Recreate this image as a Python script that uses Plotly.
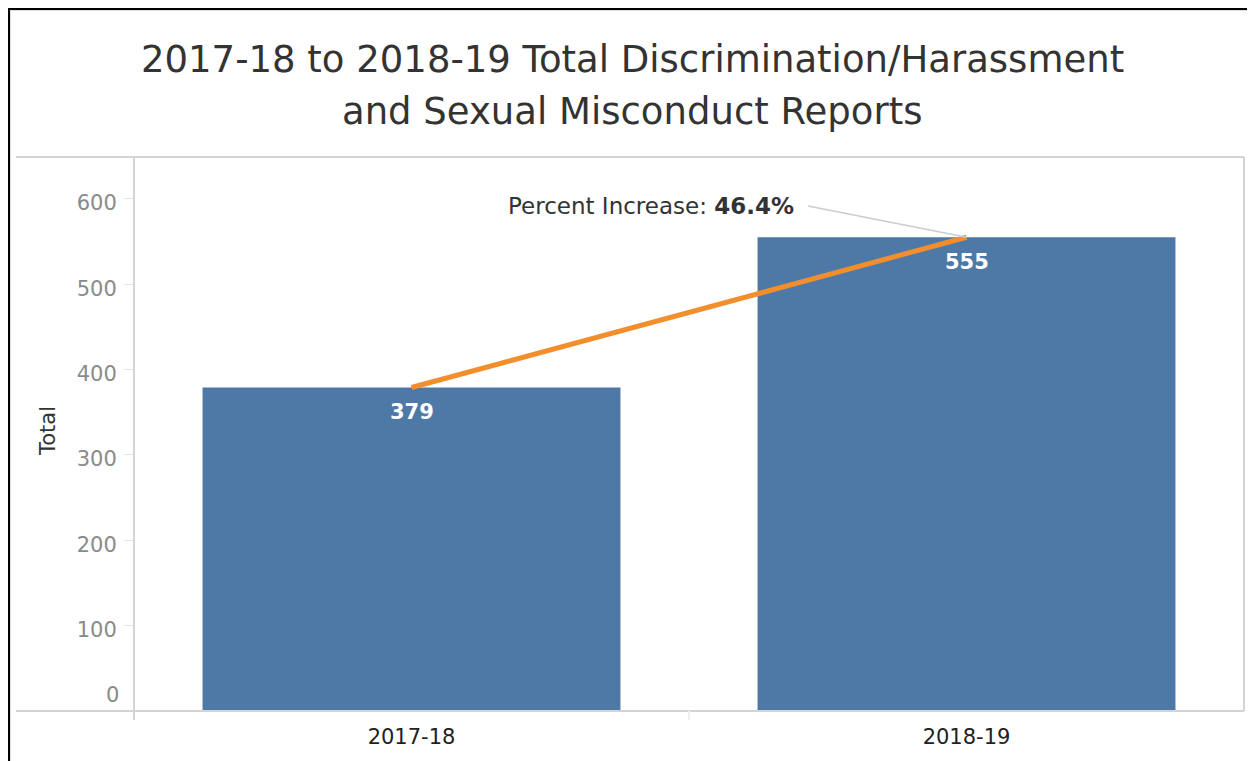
import plotly.graph_objects as go

categories = ["2017-18", "2018-19"]
totals = [379, 555]
y_ticks = [0, 100, 200, 300, 400, 500, 600]
title_lines = ["2017-18 to 2018-19 Total Discrimination/Harassment",
               "and Sexual Misconduct Reports"]

BAR = "#4e79a7"
ORANGE = "#f28e2b"
FONT = "DejaVu Sans"

OFF = 8  # page body margin
W, H = 1255 - OFF, 761 - OFF
# plot area in page pixel coords
L, R, T, B = 134, 1244, 157, 711
PW, PH = R - L, B - T
YMAX = 649


def px(x):
    return (x - L) / PW


def py(y):
    return (B - y) / PH


pct = (totals[1] - totals[0]) / totals[0] * 100

fig = go.Figure()
fig.add_trace(go.Bar(x=categories, y=totals, marker=dict(color=BAR, line=dict(width=0)),
                     hoverinfo="skip"))
fig.add_trace(go.Scatter(x=categories, y=totals, mode="lines",
                         line=dict(color=ORANGE, width=5), hoverinfo="skip"))

ann = []
for c, v in zip(categories, totals):
    ann.append(dict(x=c, y=v, xref="x", yref="y", text=f"<b>{v}</b>", showarrow=False,
                    yshift=-25, font=dict(family=FONT, size=21, color="white")))
ann.append(dict(x=categories[1], y=totals[1], xref="x", yref="y",
                text=f"Percent Increase: <b>{pct:.1f}%</b>", showarrow=False,
                xanchor="right", yanchor="middle", xshift=-171, yshift=31,
                font=dict(family=FONT, size=23, color="#333333")))
ann.append(dict(x=px(121), y=py(695), xref="paper", yref="paper", text=str(y_ticks[0]),
                showarrow=False, xanchor="right", yanchor="middle",
                font=dict(family=FONT, size=21, color="#8a8a8a")))
ann.append(dict(x=px(48), y=py(431), xref="paper", yref="paper", text="Total", textangle=-90,
                showarrow=False, xanchor="center", yanchor="middle",
                font=dict(family=FONT, size=21, color="#333333")))
for line, ypix in zip(title_lines, [60, 112]):
    ann.append(dict(x=px(632), y=py(ypix), xref="paper", yref="paper", text=line,
                    showarrow=False, xanchor="center", yanchor="middle",
                    font=dict(family=FONT, size=37, color="#333333")))

GRAY = "#d4d4d4"
shapes = [
    # outer black border
    dict(type="rect", xref="paper", yref="paper", x0=px(8.5), x1=px(1252.5), y0=py(790), y1=py(8.5),
         line=dict(color="black", width=3), fillcolor="rgba(0,0,0,0)", layer="above"),
    dict(type="rect", xref="paper", yref="paper", x0=px(10.5), x1=px(1250.5), y0=py(790), y1=py(10.5),
         line=dict(color="#dddddd", width=1), fillcolor="rgba(0,0,0,0)", layer="above"),
    # pane lines
    dict(type="line", xref="paper", yref="paper", x0=px(16), x1=1, y0=1, y1=1,
         line=dict(color=GRAY, width=2)),
    dict(type="line", xref="paper", yref="paper", x0=px(16), x1=1, y0=0, y1=0,
         line=dict(color=GRAY, width=2), layer="above"),
    dict(type="line", xref="paper", yref="paper", x0=1, x1=1, y0=0, y1=1,
         line=dict(color=GRAY, width=2)),
    dict(type="line", xref="paper", yref="paper", x0=0, x1=0, y0=py(720), y1=1,
         line=dict(color=GRAY, width=2)),
    dict(type="line", xref="paper", yref="paper", x0=0.5, x1=0.5, y0=py(711), y1=py(720),
         line=dict(color="#eeeeee", width=2)),
    # leader line
    dict(type="line", xref="paper", yref="y", x0=px(808), y0=(B - 206) / PH * YMAX, x1=0.75,
         y1=totals[1], line=dict(color="#cccccc", width=1.5)),
]

fig.update_layout(
    width=W, height=H,
    margin=dict(l=L - OFF, r=(W + OFF) - R, t=T - OFF, b=(H + OFF) - B, autoexpand=False),
    paper_bgcolor="white", plot_bgcolor="white",
    showlegend=False, bargap=0.247,
    font=dict(family=FONT),
    annotations=ann, shapes=shapes,
    xaxis=dict(type="category", showline=False, showgrid=False, ticks="", zeroline=False,
               tickfont=dict(family=FONT, size=21, color="#222222"), ticklabelstandoff=11),
    yaxis=dict(range=[0, YMAX], tickvals=y_ticks, ticktext=[""] + [str(v) for v in y_ticks[1:]],
               showgrid=False, zeroline=False, showline=False, ticks="outside", ticklen=9,
               tickcolor="#e6e6e6", tickwidth=1, ticklabelstandoff=3, ticklabelshift=4,
               tickfont=dict(family=FONT, size=21, color="#8a8a8a")),
)

fig.write_html("out.html")
